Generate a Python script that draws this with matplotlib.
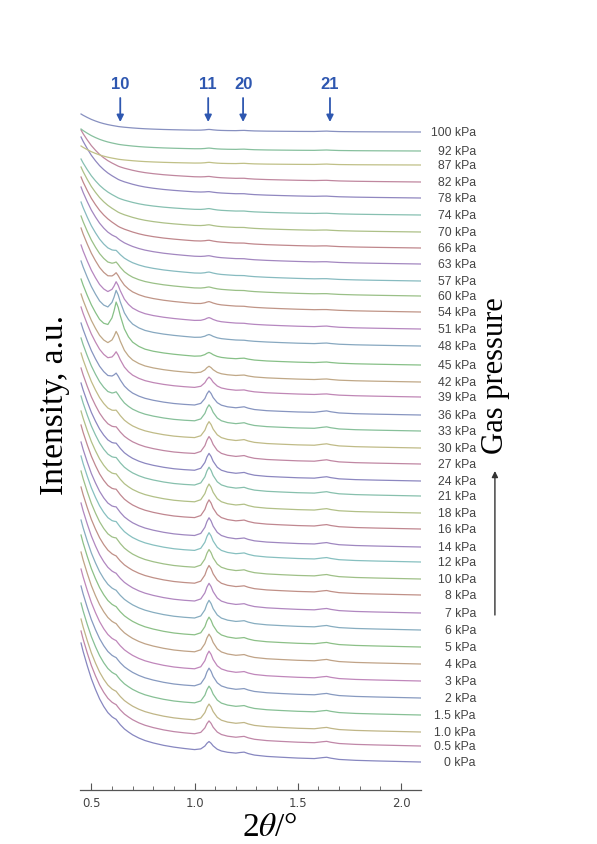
import numpy as np
import matplotlib.pyplot as plt
import colorsys

# pressures, bottom curve first
pressures = ['0', '0.5', '1.0', '1.5', '2', '3', '4', '5', '6', '7', '8', '10', '12',
             '14', '16', '18', '21', '24', '27', '30', '33', '36', '39', '42', '45',
             '48', '51', '54', '60', '57', '63', '66', '70', '74', '78', '82', '87',
             '92', '100']

# right-end level of each curve (pixels from top of image)
end_px = [763, 747, 733, 716, 699, 682, 665, 648, 631, 614, 596, 580, 563, 548, 530,
          514, 497, 482, 465, 449, 432, 416, 398, 383, 366, 347, 330, 313, 297, 282,
          265, 249, 233, 216, 199, 183, 166, 152, 133]

# rise of the curve at the left edge above its end level (px)
rise = [119, 115, 113, 112, 112, 112, 112, 112, 110, 110, 108, 108, 106, 105, 104,
        102, 100, 98, 96, 95, 93, 92, 90, 88, 86, 85, 84, 84, 80, 79,
        77, 71, 65, 56, 61, 52, 19, 22, 18]

# peak heights (px) of the 10, 11, 20, 21 reflections
amp10 = [4, 4, 4, 4, 4, 4, 4, 4, 4, 4, 4, 6, 6, 6, 6, 6, 6, 6, 6, 7, 9, 12, 16, 22,
         35, 28, 20, 12, 8, 5, 2, 0, 0, 0, 0, 0, 0, 0, 0]
amp11 = [10, 15, 18, 19, 20, 20, 20, 20, 20, 20, 20, 20, 20, 20, 20, 20, 20, 19, 19,
         18, 18, 16, 12, 8, 5, 4, 4, 3, 2, 2, 1.5, 1.5, 1.5, 1.5, 1, 1, 1, 1, 1]
amp20 = [2.5] * 22 + [1.5, 1.5, 1.5] + [0.5] * 14
amp21 = [2] * 22 + [1, 1, 1, 1, 1] + [0.5] * 12

# shared 2theta grid and shapes
two_theta = [0.45, 0.46, 0.48, 0.50, 0.52, 0.54, 0.56, 0.58, 0.60, 0.61, 0.62, 0.63,
             0.64, 0.66, 0.68, 0.70, 0.73, 0.76, 0.80, 0.85, 0.90, 0.95, 1.00, 1.03,
             1.05, 1.06, 1.07, 1.08, 1.09, 1.11, 1.13, 1.16, 1.20, 1.22, 1.24, 1.26,
             1.29, 1.35, 1.42, 1.50, 1.58, 1.62, 1.64, 1.66, 1.70, 1.78, 1.88, 2.00,
             2.095]
background = [1.00, 0.93, 0.81, 0.70, 0.61, 0.53, 0.465, 0.41, 0.365, 0.345, 0.325,
              0.305, 0.29, 0.265, 0.245, 0.225, 0.20, 0.18, 0.16, 0.14, 0.125, 0.112,
              0.10, 0.095, 0.092, 0.09, 0.088, 0.086, 0.085, 0.082, 0.079, 0.075,
              0.068, 0.065, 0.062, 0.058, 0.054, 0.047, 0.040, 0.033, 0.027, 0.025,
              0.023, 0.022, 0.019, 0.014, 0.009, 0.004, 0.0]
peak10 = [0, 0, 0, 0, 0, 0, 0.05, 0.15, 0.45, 0.7, 1.0, 0.9, 0.7, 0.38, 0.2, 0.1,
          0.04, 0.01, 0, 0, 0, 0, 0, 0, 0, 0, 0, 0, 0, 0, 0, 0, 0, 0, 0, 0, 0, 0, 0,
          0, 0, 0, 0, 0, 0, 0, 0, 0, 0]
peak11 = [0] * 21 + [0.02, 0.05, 0.18, 0.5, 0.8, 1.0, 0.85, 0.6, 0.3, 0.16, 0.08,
                     0.03] + [0] * 16
peak20 = [0] * 32 + [0.2, 0.7, 1.0, 0.6, 0.2] + [0] * 12
peak21 = [0] * 40 + [0.1, 0.7, 1.0, 0.6, 0.15] + [0] * 4

AX_BOTTOM_PX = 791

plt.rcParams['mathtext.fontset'] = 'stix'

fig = plt.figure(figsize=(5.97, 8.45), dpi=100)
ax = fig.add_axes([80 / 597, 54 / 845, 340.6 / 597, 731 / 845])
ax.set_xlim(0.445, 2.095)
ax.set_ylim(0, 731)

x = np.array(two_theta)
for i in range(len(pressures)):
    base = AX_BOTTOM_PX - end_px[i]
    y = (base + rise[i] * np.array(background) + amp10[i] * np.array(peak10)
         + amp11[i] * np.array(peak11) + amp20[i] * np.array(peak20)
         + amp21[i] * np.array(peak21))
    h = (2 / 3 + i * 0.2361) % 1
    r, g, b = colorsys.hsv_to_rgb(h, 0.6, 0.6)
    col = (r + (1 - r) * 0.38, g + (1 - g) * 0.38, b + (1 - b) * 0.38)
    ax.plot(x, y, color=col, lw=0.9)
    ax.text(2.363, base, pressures[i] + ' kPa', ha='right', va='center',
            fontsize=8.8, color='#444444', family='Liberation Sans', clip_on=False)

# reflection markers
for lab, xp in [('10', 0.64), ('11', 1.066), ('20', 1.235), ('21', 1.656)]:
    ax.annotate('', xy=(xp, 668), xytext=(xp, 692),
                arrowprops=dict(arrowstyle='-|>', color='#2e57b0', lw=1.3,
                                mutation_scale=10, shrinkA=0, shrinkB=0))
    ax.text(xp, 706, lab, ha='center', va='center', fontsize=12, fontweight='bold',
            color='#2e57b0', family='Liberation Sans')

# gas pressure arrow
ax.annotate('', xy=(2.455, 319), xytext=(2.455, 175), annotation_clip=False,
            arrowprops=dict(arrowstyle='-|>', color='#333333', lw=1.0,
                            mutation_scale=9, shrinkA=0, shrinkB=0))
ax.text(2.46, 415, 'Gas pressure', rotation=90, ha='center', va='center',
        fontsize=22, family='Liberation Serif', clip_on=False)

fig.text(55 / 597, 1 - 405 / 845, 'Intensity, a.u.', rotation=90, ha='center',
         va='center', fontsize=24, family='Liberation Serif')

fig.text(270 / 597, 1 - 828 / 845, r'2$\theta$/°', ha='center', va='center',
         fontsize=24, family='Liberation Serif')

for s in ['top', 'left', 'right']:
    ax.spines[s].set_visible(False)
ax.spines['bottom'].set_color('#555555')
ax.spines['bottom'].set_linewidth(0.9)
ax.set_yticks([])
ax.set_xticks([0.5, 1.0, 1.5, 2.0])
ax.set_xticklabels(['0.5', '1.0', '1.5', '2.0'])
ax.set_xticks(np.arange(0.5, 2.05, 0.1), minor=True)
ax.tick_params(axis='x', which='major', direction='in', length=5, width=0.8,
               color='#555555', labelsize=8.5, labelcolor='#444444', pad=4)
ax.tick_params(axis='x', which='minor', direction='in', length=3, width=0.6,
               color='#555555')

fig.savefig('out.png', dpi=100)
